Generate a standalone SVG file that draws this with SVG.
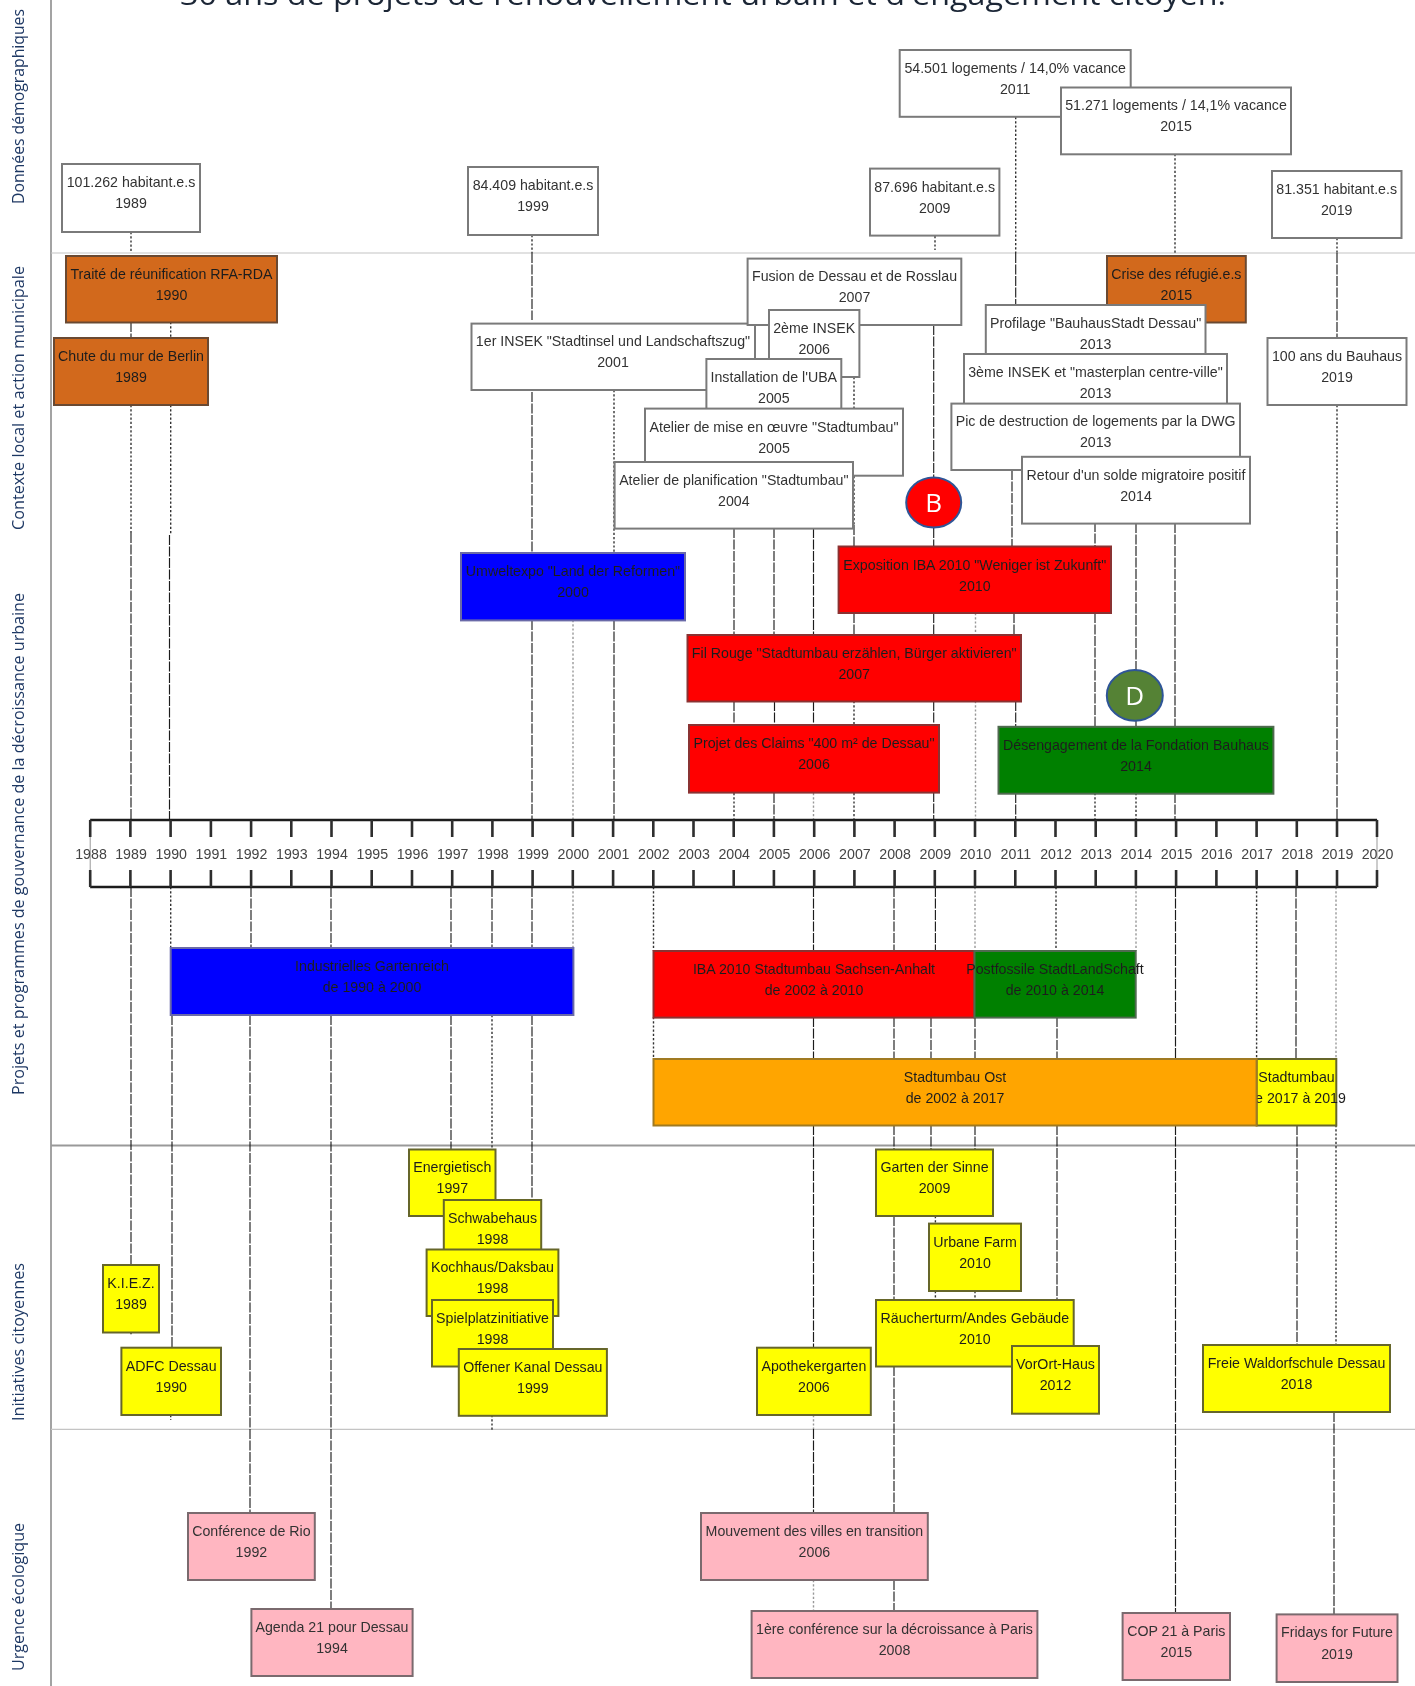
<svg xmlns="http://www.w3.org/2000/svg" width="1415" height="1686" viewBox="0 0 1415 1686">
<defs><filter id="soft" filterUnits="userSpaceOnUse" x="0" y="0" width="1415" height="1686"><feGaussianBlur stdDeviation="0.35"/></filter></defs>
<style>
text{font-family:"Liberation Sans",Arial,sans-serif;font-size:14.2px;text-anchor:middle;fill:#333}
.k text{fill:#1e1e1e}
.h{font-family:"Open Sans","Noto Sans",sans-serif;fill:#1f3864}
.title{fill:#1a2536;font-size:29px}
.s{font-size:16px;text-anchor:middle}
rect{stroke:#7a7a7a;stroke-width:2}
.w{fill:#fff}.c{fill:#d2691e;stroke:#6b4a30}.r{fill:#f00;stroke:#8a3030}.bl{fill:#00f;stroke:#6a6aa8}.g{fill:#008000;stroke:#4f6a4f}.o{fill:#ffa500;stroke:#a07a20}.y{fill:#ff0;stroke:#66662a}.p{fill:#ffb6c1;stroke:#7a6a6e}
#connectors path{fill:none}
.d{stroke:#1c1c1c;stroke-width:1.15;stroke-dasharray:10 1.5}
.t{stroke:#333;stroke-width:1.4;stroke-dasharray:2.2 2}
.l{stroke:#999;stroke-width:1.4;stroke-dasharray:2.2 2}
.ax{stroke:#8c8c8c;stroke-width:1.6;fill:none}
.tick{stroke:#2e2e2e;stroke-width:2.6;fill:none}
.lab text{fill:#444}
</style>
<g id="picture" filter="url(#soft)">
<g id="frame">
<path class="ax" d="M51 0V1686"/>
<path d="M51 253H1415M51 1429.3H1415" stroke="#c4c4c4" stroke-width="1.2" fill="none"/>
<path d="M51 1145.6H1415" stroke="#999" stroke-width="2" fill="none"/>
<text class="h title" x="703" y="5" textLength="1046" lengthAdjust="spacingAndGlyphs">30 ans de projets de renouvellement urbain et d'engagement citoyen.</text>
<g class="side">
<text class="h s" transform="translate(24 106.5) rotate(-90)" textLength="195" lengthAdjust="spacingAndGlyphs">Données démographiques</text>
<text class="h s" transform="translate(24 398) rotate(-90)" textLength="264" lengthAdjust="spacingAndGlyphs">Contexte local et action municipale</text>
<text class="h s" transform="translate(24 844) rotate(-90)" textLength="502" lengthAdjust="spacingAndGlyphs">Projets et programmes de gouvernance de la décroissance urbaine</text>
<text class="h s" transform="translate(24 1342) rotate(-90)" textLength="158" lengthAdjust="spacingAndGlyphs">Initiatives citoyennes</text>
<text class="h s" transform="translate(24 1597) rotate(-90)" textLength="148" lengthAdjust="spacingAndGlyphs">Urgence écologique</text>
</g>
</g>
<g id="connectors">
<path class="t" d="M131 232V252M131 405V533M131 1332V1336"/>
<path class="d" d="M131 322V338M131 533V820M131 887V1265"/>
<path class="t" d="M170.7 322V338M170.7 405V535M170.7 887V948M170.7 1415V1420"/>
<path class="d" d="M169.5 535V820M172 1015V1347"/>
<path class="d" d="M251 887V948M250 1015V1513"/>
<path class="d" d="M331 887V948M331 1015V1609"/>
<path class="d" d="M451 887V948M451 1015V1149.5"/>
<path class="d" d="M492 887V951"/>
<path class="t" d="M492 1015V1149.5M492 1415V1430"/>
<path class="t" d="M532 235V253"/>
<path class="d" d="M532 253V320M532 392V553M532 620V820M532 887V951M532 1015V1200"/>
<path class="l" d="M573 620V820M573 887V948"/>
<path class="t" d="M614 390V553"/>
<path class="d" d="M614 620V820"/>
<path class="t" d="M653.5 887V951M653.5 1017V1059"/>
<path class="d" d="M734 528V635M734 701V725"/>
<path class="t" d="M734 793V820"/>
<path class="d" d="M774 528V635M774.5 701V725M774 793V820"/>
<path class="d" d="M813.5 528V635M813.5 701V725M813.5 887V951M813.5 1017V1059M813.5 1125V1347M813.5 1429V1513"/>
<path class="l" d="M813.5 793V820M813.5 1415V1429M813.5 1580V1611"/>
<path class="t" d="M854 377V408M854 476V525M854 701V725M854 793V820"/>
<path class="d" d="M854 525V546M854 613V635"/>
<path class="d" d="M894 887V951M894 1017V1059M894 1125V1149M894 1216V1300M894 1366V1513M894 1580V1611"/>
<path class="t" d="M935 236V250M935.4 1216V1224M935.4 1291V1300"/>
<path class="d" d="M933.7 325V478M933.7 528V546M933.7 613V635M933.7 701V725M933.7 792V820M935.4 887V951M931 1017V1059M931 1125V1149"/>
<path class="l" d="M975.5 613V635M975.5 701V820M975 887V951"/>
<path class="d" d="M975 1017V1059M975 1125V1149"/>
<path class="t" d="M975 1291V1300"/>
<path class="t" d="M1015.700 117V253"/>
<path class="d" d="M1015.700 253V304M1012 470V546M1014 613V640M1015.700 701V726M1015.700 793V820"/>
<path class="t" d="M1056 887V951"/>
<path class="d" d="M1057 1017V1059M1057 1125V1300"/>
<path class="d" d="M1095 522V546M1095 613V727"/>
<path class="t" d="M1095 793V820"/>
<path class="d" d="M1136 523V727"/>
<path class="t" d="M1136 793V820"/>
<path class="l" d="M1136 887V951"/>
<path class="t" d="M1175 154V253"/>
<path class="d" d="M1175 523V727M1175 793V820M1175.500 887V1059M1175.500 1125V1613"/>
<path class="t" d="M1256.600 887V1059"/>
<path class="d" d="M1296 887V1059M1297 1125V1345"/>
<path class="t" d="M1337 238V253M1337 405V533M1336 1125V1345"/>
<path class="d" d="M1337 253V338M1337 533V820M1334 1412V1614"/>
<path class="l" d="M1336 887V1059"/>
</g>
<g id="n-demo-1989"><rect class="w" x="62" y="164" width="138" height="68"/><text x="131" y="187">101.262 habitant.e.s<tspan x="131" dy="21.4">1989</tspan></text></g>
<g id="n-demo-1999"><rect class="w" x="468" y="167" width="130" height="68"/><text x="533" y="190">84.409 habitant.e.s<tspan x="533" dy="21.4">1999</tspan></text></g>
<g id="n-demo-2009"><rect class="w" x="870" y="168.600" width="129.400" height="67"/><text x="934.700" y="191.600">87.696 habitant.e.s<tspan x="934.700" dy="21.4">2009</tspan></text></g>
<g id="n-demo-2019"><rect class="w" x="1272" y="171" width="129.500" height="67"/><text x="1336.700" y="194">81.351 habitant.e.s<tspan x="1336.700" dy="21.4">2019</tspan></text></g>
<g id="n-log-2011"><rect class="w" x="899.700" y="50" width="231" height="66.800"/><text x="1015.200" y="73">54.501 logements / 14,0% vacance<tspan x="1015.200" dy="21.4">2011</tspan></text></g>
<g id="n-log-2015"><rect class="w" x="1061" y="87.500" width="230" height="66.800"/><text x="1176" y="110">51.271 logements / 14,1% vacance<tspan x="1176" dy="21.4">2015</tspan></text></g>
<g id="n-traite" class="k"><rect class="c" x="66" y="256" width="211" height="66.500"/><text x="171.500" y="278.500">Traité de réunification RFA-RDA<tspan x="171.500" dy="21.4">1990</tspan></text></g>
<g id="n-chute" class="k"><rect class="c" x="54" y="338" width="154" height="67"/><text x="131" y="361">Chute du mur de Berlin<tspan x="131" dy="21.4">1989</tspan></text></g>
<g id="n-insek1"><rect class="w" x="471.500" y="323.600" width="283.500" height="66.400"/><text x="613" y="346">1er INSEK "Stadtinsel und Landschaftszug"<tspan x="613" dy="21.4">2001</tspan></text></g>
<g id="n-fusion"><rect class="w" x="747.600" y="258.600" width="213.700" height="66.400"/><text x="854.500" y="281">Fusion de Dessau et de Rosslau<tspan x="854.500" dy="21.4">2007</tspan></text></g>
<g id="n-insek2"><rect class="w" x="769" y="310" width="90.400" height="67"/><text x="814.200" y="333">2ème INSEK<tspan x="814.200" dy="21.4">2006</tspan></text></g>
<g id="n-uba"><rect class="w" x="706.400" y="359" width="134.900" height="67"/><text x="773.800" y="382">Installation de l'UBA<tspan x="773.800" dy="21.4">2005</tspan></text></g>
<g id="n-atelier-mise"><rect class="w" x="645" y="408.600" width="258" height="67.100"/><text x="774" y="431.600">Atelier de mise en œuvre "Stadtumbau"<tspan x="774" dy="21.4">2005</tspan></text></g>
<g id="n-atelier-plan"><rect class="w" x="614.600" y="462" width="238.400" height="66.600"/><text x="733.800" y="485">Atelier de planification "Stadtumbau"<tspan x="733.800" dy="21.4">2004</tspan></text></g>
<g id="n-crise" class="k"><rect class="c" x="1107" y="256" width="138.800" height="66.500"/><text x="1176.400" y="278.500">Crise des réfugié.e.s<tspan x="1176.400" dy="21.4">2015</tspan></text></g>
<g id="n-profilage"><rect class="w" x="985.800" y="305" width="219.700" height="67"/><text x="1095.600" y="328">Profilage "BauhausStadt Dessau"<tspan x="1095.600" dy="21.4">2013</tspan></text></g>
<g id="n-insek3"><rect class="w" x="964" y="354" width="263" height="67"/><text x="1095.500" y="377">3ème INSEK et "masterplan centre-ville"<tspan x="1095.500" dy="21.4">2013</tspan></text></g>
<g id="n-pic"><rect class="w" x="951.400" y="403.600" width="288.600" height="66.400"/><text x="1095.700" y="426">Pic de destruction de logements par la DWG<tspan x="1095.700" dy="21.4">2013</tspan></text></g>
<g id="n-retour"><rect class="w" x="1022" y="456.800" width="228" height="66.800"/><text x="1136" y="479.800">Retour d'un solde migratoire positif<tspan x="1136" dy="21.4">2014</tspan></text></g>
<g id="n-bauhaus100"><rect class="w" x="1267.500" y="338" width="139" height="67"/><text x="1337" y="361">100 ans du Bauhaus<tspan x="1337" dy="21.4">2019</tspan></text></g>
<g id="n-b"><ellipse cx="933.700" cy="502.500" rx="27.500" ry="25" fill="#f00" stroke="#2f5597" stroke-width="2"/><text x="933.700" y="512" style="font-family:'Open Sans',sans-serif;font-size:26px;fill:#fff">B</text></g>
<g id="n-umwelt" class="k"><rect class="bl" x="461" y="553" width="224" height="67.400"/><text x="573" y="576">Umweltexpo "Land der Reformen"<tspan x="573" dy="21.4">2000</tspan></text></g>
<g id="n-expo" class="k"><rect class="r" x="838.600" y="546.500" width="272.400" height="66.500"/><text x="974.800" y="569.500">Exposition IBA 2010 "Weniger ist Zukunft"<tspan x="974.800" dy="21.4">2010</tspan></text></g>
<g id="n-filrouge" class="k"><rect class="r" x="687.500" y="635" width="333.500" height="66.500"/><text x="854.200" y="658">Fil Rouge "Stadtumbau erzählen, Bürger aktivieren"<tspan x="854.200" dy="21.4">2007</tspan></text></g>
<g id="n-claims" class="k"><rect class="r" x="689" y="725" width="250" height="67.600"/><text x="814" y="748">Projet des Claims "400 m² de Dessau"<tspan x="814" dy="21.4">2006</tspan></text></g>
<g id="n-deseng" class="k"><rect class="g" x="998.500" y="726.800" width="274.900" height="66.900"/><text x="1136" y="749.500">Désengagement de la Fondation Bauhaus<tspan x="1136" dy="21.4">2014</tspan></text></g>
<g id="n-d"><ellipse cx="1134.800" cy="695.400" rx="28" ry="25.300" fill="#548235" stroke="#2f5597" stroke-width="2"/><text x="1134.800" y="705" style="font-family:'Open Sans',sans-serif;font-size:26px;fill:#fff">D</text></g>
<g id="timeline" class="lab">
<rect x="90.200" y="820" width="1286.800" height="67" fill="#fff" style="stroke:#999;stroke-width:1"/>
<path d="M90.200 820H1377M90.200 887H1377" stroke="#1c1c1c" stroke-width="2.6" fill="none"/>
<path class="tick" d="M90.200 820v17M130.400 820v17M170.600 820v17M210.900 820v17M251.100 820v17M291.300 820v17M331.500 820v17M371.700 820v17M412 820v17M452.200 820v17M492.400 820v17M532.600 820v17M572.800 820v17M613.100 820v17M653.300 820v17M693.500 820v17M733.700 820v17M773.900 820v17M814.200 820v17M854.400 820v17M894.600 820v17M934.800 820v17M975 820v17M1015.300 820v17M1055.500 820v17M1095.700 820v17M1135.900 820v17M1176.100 820v17M1216.400 820v17M1256.600 820v17M1296.800 820v17M1337 820v17M1377 820v17M90.200 870v17M130.400 870v17M170.600 870v17M210.900 870v17M251.100 870v17M291.300 870v17M331.500 870v17M371.700 870v17M412 870v17M452.200 870v17M492.400 870v17M532.600 870v17M572.800 870v17M613.100 870v17M653.300 870v17M693.500 870v17M733.700 870v17M773.900 870v17M814.200 870v17M854.400 870v17M894.600 870v17M934.800 870v17M975 870v17M1015.300 870v17M1055.500 870v17M1095.700 870v17M1135.900 870v17M1176.100 870v17M1216.400 870v17M1256.600 870v17M1296.800 870v17M1337 870v17M1377 870v17"/>
<text x="91" y="859">1988</text><text x="131" y="859">1989</text><text x="171.200" y="859">1990</text><text x="211.400" y="859">1991</text><text x="251.600" y="859">1992</text><text x="291.800" y="859">1993</text><text x="332" y="859">1994</text><text x="372.300" y="859">1995</text><text x="412.500" y="859">1996</text><text x="452.700" y="859">1997</text><text x="492.900" y="859">1998</text><text x="533.100" y="859">1999</text><text x="573.400" y="859">2000</text><text x="613.600" y="859">2001</text><text x="653.800" y="859">2002</text><text x="694" y="859">2003</text><text x="734.200" y="859">2004</text><text x="774.500" y="859">2005</text><text x="814.700" y="859">2006</text><text x="854.900" y="859">2007</text><text x="895.100" y="859">2008</text><text x="935.300" y="859">2009</text><text x="975.500" y="859">2010</text><text x="1015.800" y="859">2011</text><text x="1056" y="859">2012</text><text x="1096.200" y="859">2013</text><text x="1136.400" y="859">2014</text><text x="1176.600" y="859">2015</text><text x="1216.900" y="859">2016</text><text x="1257.100" y="859">2017</text><text x="1297.300" y="859">2018</text><text x="1337.500" y="859">2019</text><text x="1377.500" y="859">2020</text>
</g>
<g id="n-gartenreich" class="k"><rect class="bl" x="170.700" y="948" width="402.700" height="67"/><text x="372" y="971">Industrielles Gartenreich<tspan x="372" dy="21.4">de 1990 à 2000</tspan></text></g>
<g id="n-iba-sa" class="k"><rect class="r" x="653.500" y="951" width="321" height="66.600"/><text x="814" y="973.500">IBA 2010 Stadtumbau Sachsen-Anhalt<tspan x="814" dy="21.4">de 2002 à 2010</tspan></text></g>
<g id="n-postfossile" class="k"><rect class="g" x="974.500" y="951" width="161.200" height="66.600"/><text x="1055" y="973.500">Postfossile StadtLandSchaft<tspan x="1055" dy="21.4">de 2010 à 2014</tspan></text></g>
<g id="n-stadtumbau-2" class="k"><rect class="y" x="1256.600" y="1059" width="79.700" height="66.500"/><text x="1296.500" y="1081.500">Stadtumbau<tspan x="1296.500" dy="21.4">de 2017 à 2019</tspan></text></g>
<g id="n-stadtumbau-ost" class="k"><rect class="o" x="653.500" y="1059" width="603.100" height="66.500"/><text x="955" y="1081.500">Stadtumbau Ost<tspan x="955" dy="21.4">de 2002 à 2017</tspan></text></g>
<g id="n-energie" class="k"><rect class="y" x="409" y="1149.500" width="86.500" height="66.500"/><text x="452.300" y="1172">Energietisch<tspan x="452.300" dy="21.4">1997</tspan></text></g>
<g id="n-schwabe" class="k"><rect class="y" x="443.800" y="1200" width="97.400" height="67"/><text x="492.500" y="1223">Schwabehaus<tspan x="492.500" dy="21.4">1998</tspan></text></g>
<g id="n-kochhaus" class="k"><rect class="y" x="426.600" y="1249.500" width="131.800" height="66.500"/><text x="492.500" y="1272">Kochhaus/Daksbau<tspan x="492.500" dy="21.4">1998</tspan></text></g>
<g id="n-spiel" class="k"><rect class="y" x="432" y="1300" width="121" height="66.500"/><text x="492.500" y="1323">Spielplatzinitiative<tspan x="492.500" dy="21.4">1998</tspan></text></g>
<g id="n-kanal" class="k"><rect class="y" x="458.800" y="1349" width="148.100" height="66.800"/><text x="532.800" y="1372">Offener Kanal Dessau<tspan x="532.800" dy="21.4">1999</tspan></text></g>
<g id="n-kiez" class="k"><rect class="y" x="103" y="1265" width="56" height="67.500"/><text x="131" y="1288">K.I.E.Z.<tspan x="131" dy="21.4">1989</tspan></text></g>
<g id="n-adfc" class="k"><rect class="y" x="121.400" y="1347.700" width="99.600" height="67.300"/><text x="171.200" y="1370.700">ADFC Dessau<tspan x="171.200" dy="21.4">1990</tspan></text></g>
<g id="n-garten" class="k"><rect class="y" x="876" y="1149.500" width="117" height="66.500"/><text x="934.500" y="1172">Garten der Sinne<tspan x="934.500" dy="21.4">2009</tspan></text></g>
<g id="n-urbane" class="k"><rect class="y" x="929" y="1223.600" width="92" height="67.400"/><text x="975" y="1246.600">Urbane Farm<tspan x="975" dy="21.4">2010</tspan></text></g>
<g id="n-raucher" class="k"><rect class="y" x="876" y="1300" width="197.700" height="66.500"/><text x="974.800" y="1323">Räucherturm/Andes Gebäude<tspan x="974.800" dy="21.4">2010</tspan></text></g>
<g id="n-vorort" class="k"><rect class="y" x="1012" y="1346" width="87" height="67.700"/><text x="1055.500" y="1369">VorOrt-Haus<tspan x="1055.500" dy="21.4">2012</tspan></text></g>
<g id="n-apotheker" class="k"><rect class="y" x="757" y="1347.700" width="113.800" height="67.300"/><text x="813.900" y="1370.700">Apothekergarten<tspan x="813.900" dy="21.4">2006</tspan></text></g>
<g id="n-waldorf" class="k"><rect class="y" x="1203" y="1345" width="187" height="67"/><text x="1296.500" y="1368">Freie Waldorfschule Dessau<tspan x="1296.500" dy="21.4">2018</tspan></text></g>
<g id="n-rio"><rect class="p" x="188" y="1513" width="126.800" height="67"/><text x="251.400" y="1536">Conférence de Rio<tspan x="251.400" dy="21.4">1992</tspan></text></g>
<g id="n-agenda"><rect class="p" x="251.400" y="1609" width="161.200" height="67"/><text x="332" y="1632">Agenda 21 pour Dessau<tspan x="332" dy="21.4">1994</tspan></text></g>
<g id="n-transition"><rect class="p" x="701" y="1513" width="226.800" height="67"/><text x="814.400" y="1536">Mouvement des villes en transition<tspan x="814.400" dy="21.4">2006</tspan></text></g>
<g id="n-paris"><rect class="p" x="751.600" y="1611" width="285.800" height="67"/><text x="894.500" y="1634">1ère conférence sur la décroissance à Paris<tspan x="894.500" dy="21.4">2008</tspan></text></g>
<g id="n-cop"><rect class="p" x="1122.600" y="1613" width="107.400" height="67"/><text x="1176.300" y="1636">COP 21 à Paris<tspan x="1176.300" dy="21.4">2015</tspan></text></g>
<g id="n-fridays"><rect class="p" x="1276.600" y="1614.400" width="120.900" height="67.600"/><text x="1337" y="1637.400">Fridays for Future<tspan x="1337" dy="21.4">2019</tspan></text></g>
</g>
</svg>
